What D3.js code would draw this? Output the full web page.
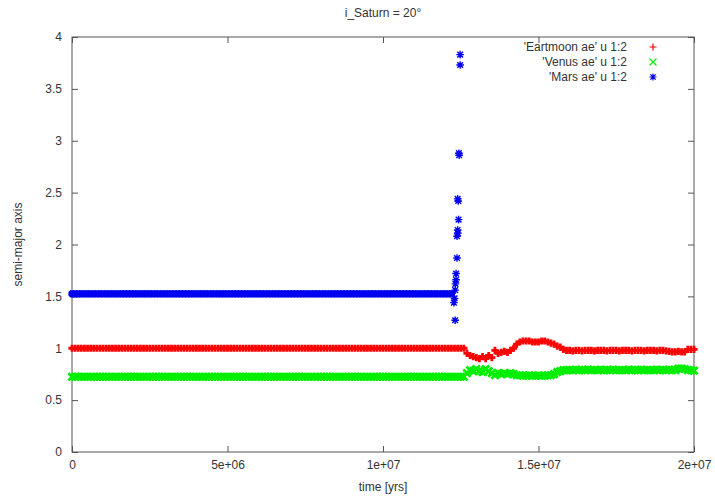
<!DOCTYPE html>
<html>
<head>
<meta charset="utf-8">
<script src="https://cdn.jsdelivr.net/npm/d3@7"></script>
<style>
  body { margin: 0; background: #fff; }
  text { font-family: "Liberation Sans", Arial, sans-serif; }
</style>
</head>
<body>
<svg id="chart" width="715" height="501"></svg>
<script>
// Semi-major axis of the inner planets over 20 Myr, i_Saturn = 20°
const chartTitle = "i_Saturn = 20°";
const xAxisTitle = "time [yrs]";
const yAxisTitle = "semi-major axis";
const seriesNames = ["'Eartmoon ae' u 1:2", "'Venus ae' u 1:2", "'Mars ae' u 1:2"];

// output interval of the integration (years)
const sampleStep = 1e5;

// Earth-Moon semi-major axis (AU), one value per output step from t = 0
const earthValues = [
  1.00,1.00,1.00,1.00,1.00,1.00,1.00,1.00,1.00,1.00,
  1.00,1.00,1.00,1.00,1.00,1.00,1.00,1.00,1.00,1.00,
  1.00,1.00,1.00,1.00,1.00,1.00,1.00,1.00,1.00,1.00,
  1.00,1.00,1.00,1.00,1.00,1.00,1.00,1.00,1.00,1.00,
  1.00,1.00,1.00,1.00,1.00,1.00,1.00,1.00,1.00,1.00,
  1.00,1.00,1.00,1.00,1.00,1.00,1.00,1.00,1.00,1.00,
  1.00,1.00,1.00,1.00,1.00,1.00,1.00,1.00,1.00,1.00,
  1.00,1.00,1.00,1.00,1.00,1.00,1.00,1.00,1.00,1.00,
  1.00,1.00,1.00,1.00,1.00,1.00,1.00,1.00,1.00,1.00,
  1.00,1.00,1.00,1.00,1.00,1.00,1.00,1.00,1.00,1.00,
  1.00,1.00,1.00,1.00,1.00,1.00,1.00,1.00,1.00,1.00,
  1.00,1.00,1.00,1.00,1.00,1.00,1.00,1.00,1.00,1.00,
  1.00,1.00,1.00,1.00,1.00,1.00,1.00,0.95,0.93,0.92,
  0.91,0.90,0.92,0.90,0.93,0.91,0.98,0.95,0.96,0.97,
  0.96,0.98,1.00,1.04,1.06,1.07,1.07,1.07,1.06,1.06,
  1.06,1.07,1.07,1.06,1.05,1.04,1.02,1.01,0.99,0.98,
  0.98,0.975,0.98,0.98,0.975,0.98,0.98,0.98,0.975,0.98,
  0.98,0.98,0.975,0.98,0.98,0.98,0.975,0.98,0.98,0.98,
  0.975,0.98,0.98,0.98,0.975,0.98,0.98,0.98,0.975,0.98,
  0.98,0.975,0.97,0.965,0.965,0.97,0.965,0.965,0.99,0.99,
  0.99
];

// Venus semi-major axis (AU)
const venusValues = [
  0.725,0.725,0.725,0.725,0.725,0.725,0.725,0.725,0.725,0.725,
  0.725,0.725,0.725,0.725,0.725,0.725,0.725,0.725,0.725,0.725,
  0.725,0.725,0.725,0.725,0.725,0.725,0.725,0.725,0.725,0.725,
  0.725,0.725,0.725,0.725,0.725,0.725,0.725,0.725,0.725,0.725,
  0.725,0.725,0.725,0.725,0.725,0.725,0.725,0.725,0.725,0.725,
  0.725,0.725,0.725,0.725,0.725,0.725,0.725,0.725,0.725,0.725,
  0.725,0.725,0.725,0.725,0.725,0.725,0.725,0.725,0.725,0.725,
  0.725,0.725,0.725,0.725,0.725,0.725,0.725,0.725,0.725,0.725,
  0.725,0.725,0.725,0.725,0.725,0.725,0.725,0.725,0.725,0.725,
  0.725,0.725,0.725,0.725,0.725,0.725,0.725,0.725,0.725,0.725,
  0.725,0.725,0.725,0.725,0.725,0.725,0.725,0.725,0.725,0.725,
  0.725,0.725,0.725,0.725,0.725,0.725,0.725,0.725,0.725,0.725,
  0.725,0.725,0.725,0.725,0.725,0.725,0.725,0.76,0.79,0.78,
  0.80,0.78,0.77,0.80,0.78,0.76,0.74,0.76,0.75,0.76,
  0.75,0.76,0.75,0.74,0.74,0.735,0.735,0.74,0.735,0.735,
  0.74,0.735,0.735,0.74,0.74,0.75,0.77,0.78,0.79,0.79,
  0.79,0.79,0.795,0.79,0.79,0.79,0.795,0.79,0.79,0.79,
  0.795,0.79,0.79,0.79,0.795,0.79,0.79,0.79,0.79,0.795,
  0.79,0.79,0.79,0.795,0.79,0.79,0.79,0.79,0.795,0.79,
  0.79,0.79,0.795,0.79,0.79,0.805,0.805,0.80,0.79,0.79,
  0.785
];

// Mars semi-major axis (AU) until the instability sets in
const marsValues = [
  1.525,1.525,1.525,1.525,1.525,1.525,1.525,1.525,1.525,1.525,
  1.525,1.525,1.525,1.525,1.525,1.525,1.525,1.525,1.525,1.525,
  1.525,1.525,1.525,1.525,1.525,1.525,1.525,1.525,1.525,1.525,
  1.525,1.525,1.525,1.525,1.525,1.525,1.525,1.525,1.525,1.525,
  1.525,1.525,1.525,1.525,1.525,1.525,1.525,1.525,1.525,1.525,
  1.525,1.525,1.525,1.525,1.525,1.525,1.525,1.525,1.525,1.525,
  1.525,1.525,1.525,1.525,1.525,1.525,1.525,1.525,1.525,1.525,
  1.525,1.525,1.525,1.525,1.525,1.525,1.525,1.525,1.525,1.525,
  1.525,1.525,1.525,1.525,1.525,1.525,1.525,1.525,1.525,1.525,
  1.525,1.525,1.525,1.525,1.525,1.525,1.525,1.525,1.525,1.525,
  1.525,1.525,1.525,1.525,1.525,1.525,1.525,1.525,1.525,1.525,
  1.525,1.525,1.525,1.525,1.525,1.525,1.525,1.525,1.525,1.525,
  1.525,1.525,1.525
];

// Mars outputs during its ejection
const marsEjectionTimes  = [1.228e7,1.230e7,1.232e7,1.232e7,1.233e7,1.235e7,1.235e7,1.238e7,1.238e7,
                            1.240e7,1.241e7,1.240e7,1.242e7,1.243e7,1.244e7,1.245e7,1.248e7,1.248e7];
const marsEjectionValues = [1.44,1.48,1.27,1.56,1.62,1.66,1.72,1.87,2.08,
                            2.14,2.11,2.44,2.42,2.24,2.88,2.86,3.73,3.83];

const xTickValues = [0, 5e6, 1e7, 1.5e7, 2e7];
const xTickLabels = ["0", "5e+06", "1e+07", "1.5e+07", "2e+07"];
const yTickValues = [0, 0.5, 1, 1.5, 2, 2.5, 3, 3.5, 4];
const yTickLabels = ["0", "0.5", "1", "1.5", "2", "2.5", "3", "3.5", "4"];

const seriesColors = ["#ff0000", "#00ee00", "#0000f0"];

// marker glyphs: plus, cross, asterisk
function plus(r) { return `M${-r},0H${r}M0,${-r}V${r}`; }
function cross(r) { return `M${-r},${-r}L${r},${r}M${-r},${r}L${r},${-r}`; }
function star(r) { return plus(r) + cross(r * 0.75); }
const markerFns = [plus, cross, star];

const width = 715, height = 501;
const margin = { top: 37, right: 21, bottom: 49, left: 72 };
const svg = d3.select("#chart");
svg.append("rect").attr("width", width).attr("height", height).attr("fill", "#fff");

const x = d3.scaleLinear().domain([0, 2e7]).range([margin.left, width - margin.right]);
const y = d3.scaleLinear().domain([0, 4]).range([height - margin.bottom, margin.top]);

const textColor = "#333";
const axisColor = "#555";

// axes with inward ticks, mirrored on the opposite sides
const bottomAxis = d3.axisBottom(x).tickValues(xTickValues)
  .tickFormat((d, i) => xTickLabels[i]).tickSizeInner(-6).tickSizeOuter(0).tickPadding(8);
const leftAxis = d3.axisLeft(y).tickValues(yTickValues)
  .tickFormat((d, i) => yTickLabels[i]).tickSizeInner(-6).tickSizeOuter(0).tickPadding(10);
const topAxis = d3.axisTop(x).tickValues(xTickValues).tickFormat("").tickSizeInner(-6).tickSizeOuter(0);
const rightAxis = d3.axisRight(y).tickValues(yTickValues).tickFormat("").tickSizeInner(-6).tickSizeOuter(0);

function styleAxis(g) {
  g.select(".domain").remove();
  g.selectAll(".tick line").attr("stroke", axisColor);
  g.selectAll(".tick text").attr("fill", textColor).attr("font-size", 12)
    .attr("font-family", "'Liberation Sans', Arial, sans-serif");
}
svg.append("g").attr("transform", `translate(0,${y(0)})`).call(bottomAxis).call(styleAxis);
svg.append("g").attr("transform", `translate(${x(0)},0)`).call(leftAxis).call(styleAxis);
svg.append("g").attr("transform", `translate(0,${y(4)})`).call(topAxis).call(styleAxis);
svg.append("g").attr("transform", `translate(${x(2e7)},0)`).call(rightAxis).call(styleAxis);

// plot frame
svg.append("rect")
  .attr("x", x(0)).attr("y", y(4))
  .attr("width", x(2e7) - x(0)).attr("height", y(0) - y(4))
  .attr("fill", "none").attr("stroke", axisColor).attr("stroke-width", 1);

// titles
svg.append("text").attr("x", (x(0) + x(2e7)) / 2).attr("y", 17)
  .attr("text-anchor", "middle").attr("font-size", 12).attr("fill", textColor).text(chartTitle);
svg.append("text").attr("x", (x(0) + x(2e7)) / 2).attr("y", 491)
  .attr("text-anchor", "middle").attr("font-size", 12).attr("fill", textColor).text(xAxisTitle);
svg.append("text").attr("transform", `translate(22,${(y(0) + y(4)) / 2}) rotate(-90)`)
  .attr("text-anchor", "middle").attr("font-size", 12).attr("fill", textColor).text(yAxisTitle);

// series point lists; densely packed outputs get heavier strokes so they merge into a band
const toPoints = vals => vals.map((v, i) => ({ t: i * sampleStep, v, dense: true }));
const series = [
  toPoints(earthValues),
  toPoints(venusValues),
  toPoints(marsValues).concat(marsEjectionTimes.map((t, i) => ({ t, v: marsEjectionValues[i], dense: false })))
];

// Mars drawn first, then Venus, then Earth on top
[2, 1, 0].forEach(k => {
  svg.append("g")
    .selectAll("path")
    .data(series[k])
    .join("path")
    .attr("transform", d => `translate(${x(d.t)},${y(d.v)})`)
    .attr("d", d => markerFns[k](d.dense ? 3.6 : 3.8))
    .attr("fill", "none")
    .attr("stroke", seriesColors[k])
    .attr("stroke-width", d => d.dense ? 2.8 : 1.4);
});

// legend
const legendRight = 627, legendMarkerX = 653;
const legend = svg.append("g");
seriesNames.forEach((name, k) => {
  const ly = 47 + k * 15;
  legend.append("text").attr("x", legendRight).attr("y", ly + 4)
    .attr("text-anchor", "end").attr("font-size", 12).attr("fill", textColor).text(name);
  legend.append("path").attr("transform", `translate(${legendMarkerX},${ly})`)
    .attr("d", markerFns[k](3.5)).attr("fill", "none")
    .attr("stroke", seriesColors[k]).attr("stroke-width", 1.2);
});
</script>
</body>
</html>
